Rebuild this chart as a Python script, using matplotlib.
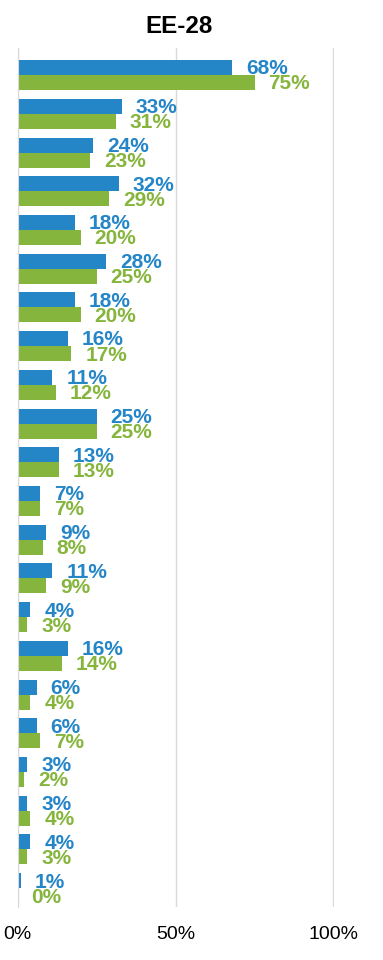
import numpy as np
from matplotlib import pyplot as plt

plt.rcParams['font.family'] = ['Liberation Sans', 'DejaVu Sans']

title = "EE-28"
blue_vals = [68, 33, 24, 32, 18, 28, 18, 16, 11, 25, 13, 7, 9, 11, 4, 16, 6, 6, 3, 3, 4, 1]
green_vals = [75, 31, 23, 29, 20, 25, 20, 17, 12, 25, 13, 7, 8, 9, 3, 14, 4, 7, 2, 4, 3, 0]
x_ticks = [0, 0.5, 1.0]
x_tick_labels = ["0%", "50%", "100%"]

blue = '#2485C7'
green = '#86B53D'

fig = plt.figure(figsize=(3.83, 9.6), dpi=100)
ax = fig.add_axes([0.0462, 0.0547, 0.8241 + 0.002, 0.8953])

n = len(blue_vals)
y = np.arange(n)
h = 0.3875
b = np.array(blue_vals) / 100
g = np.array(green_vals) / 100

ax.barh(y - h / 2, b, height=h, color=blue, zorder=3)
ax.barh(y + h / 2, g, height=h, color=green, zorder=3)

for i in range(n):
    ax.annotate(f"{blue_vals[i]}%", (b[i], y[i] - h / 2), xytext=(10, -1),
                textcoords='offset points', va='center', ha='left',
                fontsize=15, fontweight='bold', color=blue, annotation_clip=False, zorder=4)
    ax.annotate(f"{green_vals[i]}%", (g[i], y[i] + h / 2), xytext=(10, -1),
                textcoords='offset points', va='center', ha='left',
                fontsize=15, fontweight='bold', color=green, annotation_clip=False, zorder=4)

ax.set_xlim(0, 1.002)
ax.set_ylim(21.5, -0.7)
ax.set_xticks(x_ticks)
ax.set_xticklabels(x_tick_labels, fontsize=14)
ax.set_yticks([])
ax.tick_params(axis='x', length=0, pad=13)
ax.grid(axis='x', color='#D9D9D9', linewidth=1, zorder=0)
for s in ['top', 'right', 'bottom']:
    ax.spines[s].set_visible(False)
ax.spines['left'].set_color('#D9D9D9')
ax.spines['left'].set_zorder(5)

fig.text(179 / 383, 0.972, title, ha='center', va='center', fontsize=17.4, fontweight='bold')

plt.savefig('out.png', dpi=100)
